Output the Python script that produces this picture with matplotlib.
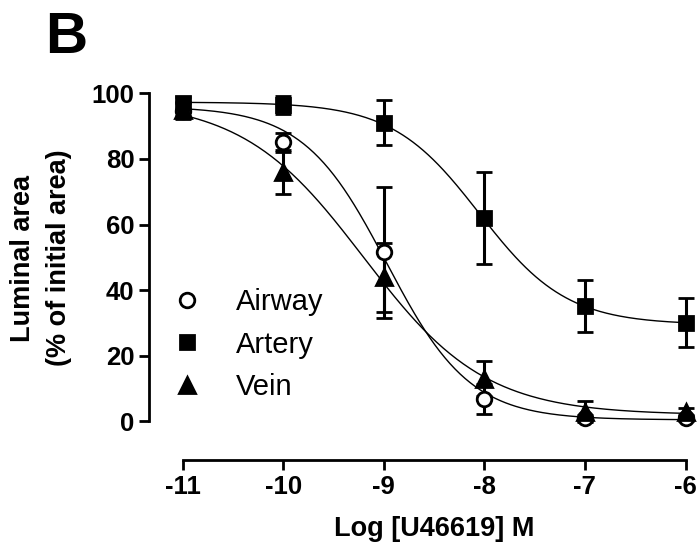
import matplotlib
matplotlib.use("Agg")
import matplotlib.pyplot as plt
import numpy as np

plt.rcParams["font.family"] = ["Liberation Sans", "DejaVu Sans"]

# log molar concentration of U46619
log_conc = [-11, -10, -9, -8, -7, -6]

# mean +/- SEM, % of initial luminal area
airway_mean = [94.7, 85.0, 51.5, 6.8, 1.0, 1.0]
airway_sem = [2.5, 3.0, 20.0, 4.5, 1.0, 0.8]
artery_mean = [97.0, 96.5, 91.0, 62.0, 35.2, 30.1]
artery_sem = [2.0, 2.7, 6.8, 14.0, 8.0, 7.4]
vein_mean = [95.0, 76.0, 44.0, 13.0, 3.0, 3.0]
vein_sem = [2.0, 6.8, 10.5, 5.3, 3.2, 1.0]

# sigmoidal fit parameters: top, bottom, logEC50, hill slope
airway_fit = (96.0, 0.5, -8.97, 1.05)
artery_fit = (97.3, 29.5, -8.05, 1.0)
vein_fit = (98.0, 2.0, -9.2, 0.72)

labels = ["Airway", "Artery", "Vein"]
markers = ["o", "s", "^"]
faces = ["white", "black", "black"]


def hill(x, top, bottom, logec50, h):
    return bottom + (top - bottom) / (1 + 10 ** (h * (x - logec50)))


fig = plt.figure(figsize=(7.0, 5.48), dpi=100)
ax = fig.add_axes([149 / 700, 88 / 548, 551 / 700, 372 / 548])

xs = np.linspace(-11, -6, 300)
means = [airway_mean, artery_mean, vein_mean]
sems = [airway_sem, artery_sem, vein_sem]
fits = [airway_fit, artery_fit, vein_fit]

for fit in fits:
    ax.plot(xs, hill(xs, *fit), color="black", lw=1.0, zorder=2)

handles = []
for m, s, lab, mk, fc in zip(means, sems, labels, markers, faces):
    ms = 10.5 if mk != "^" else 11.5
    ax.errorbar(log_conc, m, yerr=s, fmt=mk, ms=ms, mfc=fc, mec="black",
                mew=2.0, ecolor="black", elinewidth=2.2, capsize=6,
                capthick=2.2, zorder=3, clip_on=False, label=lab)
    h, = ax.plot([], [], mk, ms=ms, mfc=fc, mec="black", mew=2.0)
    handles.append(h)

ax.set_xlim(-11.333, -5.856)
ax.set_ylim(-11.73, 101.6)
ax.set_xticks(log_conc)
ax.set_xticklabels([str(v) for v in log_conc])
ax.set_yticks([0, 20, 40, 60, 80, 100])

for side in ["top", "right"]:
    ax.spines[side].set_visible(False)
ax.spines["left"].set_bounds(0, 100)
ax.spines["bottom"].set_bounds(-11, -6)
for side in ["left", "bottom"]:
    ax.spines[side].set_linewidth(2.0)
ax.tick_params(width=2.0, length=7, labelsize=18.5)
ax.tick_params(axis="y", pad=3.5)
ax.tick_params(axis="x", pad=4.0)
for t in ax.get_xticklabels() + ax.get_yticklabels():
    t.set_fontweight("bold")

ax.set_xlabel("Log [U46619] M", fontsize=19.5, fontweight="bold")
ax.xaxis.set_label_coords((-8.5 + 11.333) / (11.333 - 5.856), -0.15)

fig.text(23 / 700, 1 - 258 / 548, "Luminal area", rotation=90, fontsize=19.5,
         fontweight="bold", ha="center", va="center")
fig.text(59 / 700, 1 - 258 / 548, "(% of initial area)", rotation=90,
         fontsize=19.5, fontweight="bold", ha="center", va="center")

fig.text(45 / 700, 1 - 53 / 548, "B", fontsize=42, fontweight="bold",
         ha="left", va="baseline")

ax.legend(handles, labels, loc="upper left",
          bbox_to_anchor=(172 / 700, 1 - 288 / 548),
          bbox_transform=fig.transFigure, frameon=False, fontsize=21,
          handlelength=1.0, handletextpad=1.2, labelspacing=0.5,
          borderpad=0, borderaxespad=0)

fig.savefig("out.png", dpi=100)
